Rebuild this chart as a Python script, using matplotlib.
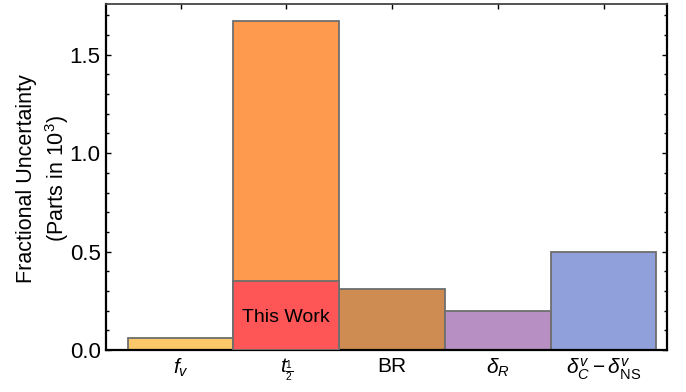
import numpy as np
import matplotlib
matplotlib.use("Agg")
from matplotlib import pyplot as plt
from matplotlib.ticker import MultipleLocator

plt.rcParams['font.family'] = 'Liberation Sans'
plt.rcParams['mathtext.fontset'] = 'custom'
plt.rcParams['mathtext.rm'] = 'Liberation Sans'
plt.rcParams['mathtext.it'] = 'Liberation Sans:italic'
plt.rcParams['mathtext.bf'] = 'Liberation Sans:bold'

# uncertainty budget, parts in 10^3
labels = [r'$f_v$', r'$t_{\frac{1}{2}}$', 'BR', r'$\delta_R$',
          r'$\delta_C^v - \delta_{\rm NS}^v$']
values = [0.06, 1.67, 0.31, 0.20, 0.50]
colors = ['#fdc86a', '#fe9a4e', '#ce8c52', '#b88fc2', '#8fa0db']
this_work = 0.35  # improved t_1/2 contribution

xpos = np.arange(1, len(values) + 1)

fig = plt.figure(figsize=(6.86, 3.92), dpi=100)
ax = fig.add_axes([105.5/686, 1-350/392, (667-105.5)/686, (350-3.5)/392])

ax.bar(xpos, values, width=1.0, color=colors, edgecolor='#6e6e6e',
       linewidth=1.3, zorder=2)
ax.bar(xpos[1], this_work, width=1.0, color='#fe5556', edgecolor='#6e6e6e',
       linewidth=1.3, zorder=3)
ax.text(xpos[1], this_work/2 - 0.01, 'This Work', ha='center', va='center',
        fontsize=14, zorder=4)

ax.set_xlim(0.29, 5.60)
ax.set_ylim(0, 1.76)
ax.set_xticks(xpos)
ax.set_xticklabels(labels, fontsize=15)
ax.yaxis.set_major_locator(MultipleLocator(0.5))
ax.yaxis.set_minor_locator(MultipleLocator(0.1))
ax.tick_params(axis='y', labelsize=16)
ax.tick_params(which='both', direction='in', top=True, right=True, width=1.0)
ax.tick_params(which='major', length=3.5)
ax.tick_params(which='minor', length=2)
ax.tick_params(axis='x', pad=5)

for side in ['left', 'bottom', 'right']:
    ax.spines[side].set_linewidth(1.6)
ax.spines['top'].set_linewidth(1.3)
ax.spines['top'].set_color('#444444')

ax.set_ylabel('Fractional Uncertainty\n(Parts in 10$^3$)', fontsize=15.5,
              linespacing=1.28)
ax.yaxis.set_label_coords(-0.062, 0.495)

fig.savefig('out.png', dpi=100)
